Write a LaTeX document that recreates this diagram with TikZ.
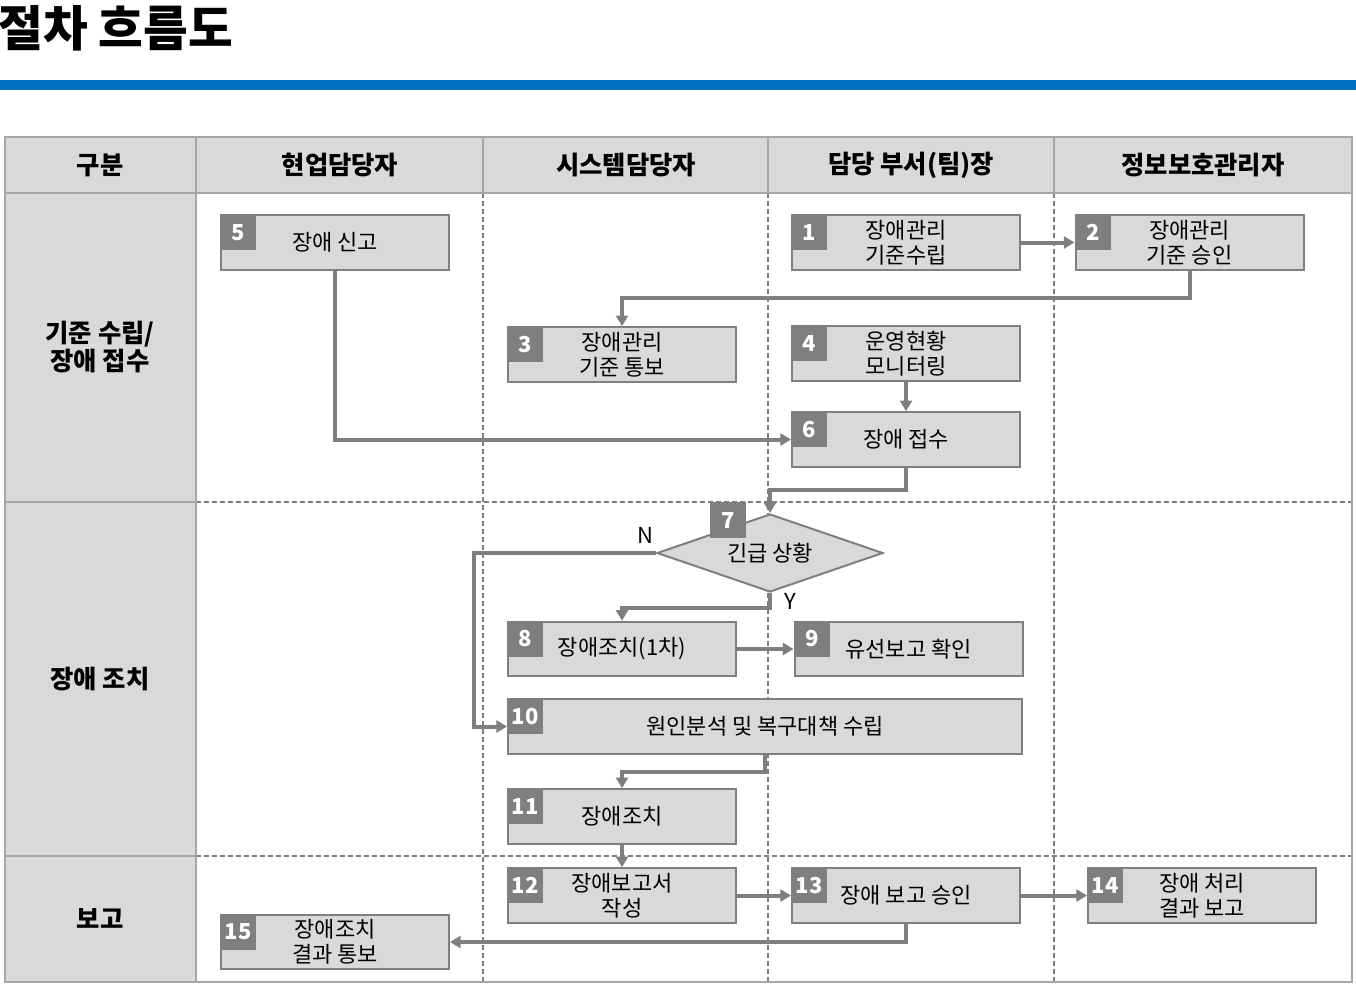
\documentclass[tikz,border=0pt]{standalone}
\usepackage{fontspec}
\setmainfont{Noto Sans CJK KR}
\usepackage{xcolor}
\usetikzlibrary{arrows.meta,shapes.geometric,calc}

\definecolor{boxgray}{HTML}{D9D9D9}
\definecolor{linegray}{HTML}{7F7F7F}
\definecolor{framegray}{HTML}{A6A6A6}
\definecolor{barblue}{HTML}{0070C0}

\begin{document}
\begin{tikzpicture}[x=0.75pt,y=-0.75pt,
  stepbox/.style={draw=linegray, line width=1.5pt, fill=boxgray, minimum width=171pt, minimum height=41pt, inner sep=0pt, align=center, font=\fontsize{16.5}{18.8}\selectfont},
  decision/.style={diamond, aspect=2.9, draw=linegray, line width=1.5pt, fill=boxgray, minimum width=169.5pt, minimum height=58.5pt, inner sep=0pt, font=\fontsize{16.5}{18.8}\selectfont},
  badge/.style={fill=linegray, text=white, minimum width=27pt, minimum height=27pt, inner sep=0pt, font=\fontsize{16.5}{18}\bfseries},
  flow/.style={draw=linegray, line width=3pt, -{Triangle[length=8pt,width=9pt]}},
  lanehead/.style={font=\fontsize{19}{21}\bfseries, align=center},
  lane/.style={draw=linegray, line width=0.9pt, dash pattern=on 4pt off 2pt},
  grid/.style={draw=framegray, line width=1pt}]
\useasboundingbox (0,0) rectangle (1356,986);

% title
\node[anchor=west, inner sep=0pt, font=\fontsize{36.5}{40}\bfseries] (title) at (-2,28) {절차 흐름도};
\fill[barblue] (0,80) rectangle (1356,90);

% table
\fill[boxgray] (5,137) rectangle (1352,193);
\fill[boxgray] (5,193) rectangle (196,982);
\draw[lane] (483,193) -- (483,982);
\draw[lane] (768,193) -- (768,982);
\draw[lane] (1054,193) -- (1054,982);
\draw[lane] (196,502) -- (1352,502);
\draw[lane] (196,856) -- (1352,856);
\draw[grid] (483,137) -- (483,193);
\draw[grid] (768,137) -- (768,193);
\draw[grid] (1054,137) -- (1054,193);
\draw[grid] (196,137) -- (196,982);
\draw[grid] (5,193) -- (1352,193);
\draw[grid] (5,502) -- (196,502);
\draw[grid] (5,856) -- (196,856);
\draw[draw=framegray, line width=2pt] (5,137) rectangle (1352,982); %outer frame

\node[lanehead] (h0) at (100,165) {구분};
\node[lanehead] (h1) at (340,165) {현업담당자};
\node[lanehead] (h2) at (626,165) {시스템담당자};
\node[lanehead] (h3) at (911,165) {담당 부서(팀)장};
\node[lanehead] (h4) at (1203,165) {정보보호관리자};

\node[lanehead, font=\fontsize{19}{21.5}\bfseries] (r1) at (100,347) {기준 수립/\\장애 접수};
\node[lanehead] (r2) at (100,679) {장애 조치};
\node[lanehead] (r3) at (100,919) {보고};

% steps
\node[stepbox] (s1) at (906,242.5) {장애관리\\기준수립};
\node[stepbox] (s2) at (1189.5,242.5) {장애관리\\기준 승인};
\node[stepbox] (s5) at (335,242.5) {장애 신고};
\node[stepbox] (s3) at (622,354.5) {장애관리\\기준 통보};
\node[stepbox] (s4) at (906,353.5) {운영현황\\모니터링};
\node[stepbox] (s6) at (906,439.5) {장애 접수};
\node[decision] (s7) at (770,553) {긴급 상황};
\node[stepbox] (s8) at (622,649) {장애조치(1차)};
\node[stepbox] (s9) at (908.5,649) {유선보고 확인};
\node[stepbox, minimum width=385.5pt] (s10) at (765,726.5) {원인분석 및 복구대책 수립};
\node[stepbox] (s11) at (622,816.5) {장애조치};
\node[stepbox] (s12) at (622,895.5) {장애보고서\\작성};
\node[stepbox] (s13) at (906,895.5) {장애 보고 승인};
\node[stepbox] (s14) at (1202,895.5) {장애 처리\\결과 보고};
\node[stepbox] (s15) at (335,942) {장애조치\\결과 통보};

% number badges
\node[badge, anchor=north west] (b1) at (s1.north west) {1};
\node[badge, anchor=north west] (b2) at (s2.north west) {2};
\node[badge, anchor=north west] (b3) at (s3.north west) {3};
\node[badge, anchor=north west] (b4) at (s4.north west) {4};
\node[badge, anchor=north west] (b5) at (s5.north west) {5};
\node[badge, anchor=north west] (b6) at (s6.north west) {6};
\node[badge, anchor=north west] (b7) at (710,502) {7};
\node[badge, anchor=north west] (b8) at (s8.north west) {8};
\node[badge, anchor=north west] (b9) at (s9.north west) {9};
\node[badge, anchor=north west] (b10) at (s10.north west) {10};
\node[badge, anchor=north west] (b11) at (s11.north west) {11};
\node[badge, anchor=north west] (b12) at (s12.north west) {12};
\node[badge, anchor=north west] (b13) at (s13.north west) {13};
\node[badge, anchor=north west] (b14) at (s14.north west) {14};
\node[badge, anchor=north west] (b15) at (s15.north west) {15};

% bends
\coordinate (k23) at (622,298);
\coordinate (k67) at (770,490);
\coordinate (kN) at (474,553);
\coordinate (kY) at (622,608);
\coordinate (k1011) at (622,772);

% connectors
\draw[flow] (s1.east) -- (s2.west);
\draw[flow] (s2.south) |- (k23) -- (s3.north);
\draw[flow] (s5.south) |- (s6.west);
\draw[flow] (s4.south) -- (s6.north);
\draw[flow] (s6.south) |- (k67) -- (s7.north);
\draw[flow] (s7.west) -- (kN) |- (s10.west);
\draw[flow] (s7.south) |- (kY) -- (s8.north);
\draw[flow] (s8.east) -- (s9.west);
\draw[flow] (s10.south) |- (k1011) -- (s11.north);
\draw[flow] (s11.south) -- (s12.north);
\draw[flow] (s12.east) -- (s13.west);
\draw[flow] (s13.east) -- (s14.west);
\draw[flow] (s13.south) |- (s15.east);

\node[font=\fontsize{16.5}{18}\selectfont] (lN) at (645,535) {N};
\node[font=\fontsize{16.5}{18}\selectfont] (lY) at (790,601) {Y};
\end{tikzpicture}
\end{document}
